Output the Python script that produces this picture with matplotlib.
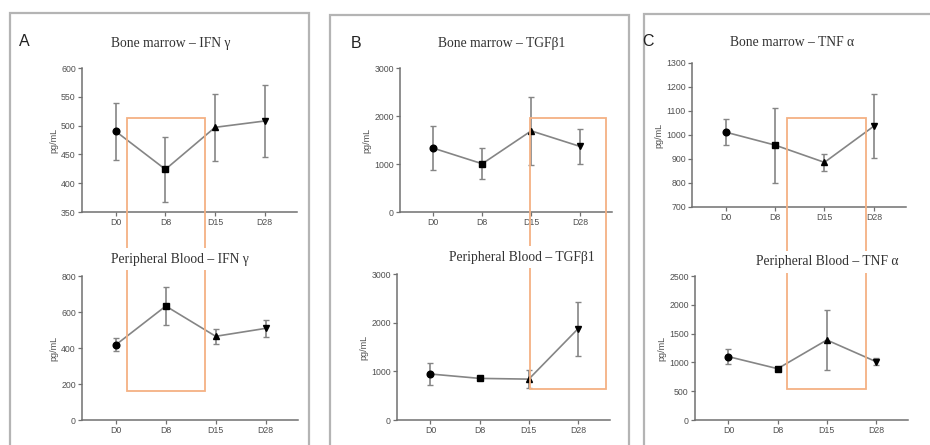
import matplotlib
matplotlib.use("Agg")
import matplotlib.pyplot as plt
from matplotlib.patches import Rectangle

# ---- data -------------------------------------------------------------
days = ["D0", "D8", "D15", "D28"]

bm_ifn = [490, 424, 497, 508]
bm_ifn_sd = [50, 56, 58, 63]
pb_ifn = [418, 633, 465, 509]
pb_ifn_sd = [36, 107, 42, 48]

bm_tgf = [1330, 1005, 1690, 1365]
bm_tgf_sd = [459, 327, 713, 358]
pb_tgf = [945, 855, 840, 1875]
pb_tgf_sd = [216, 40, 178, 556]

bm_tnf = [1012, 958, 886, 1037]
bm_tnf_sd = [54, 156, 35, 133]
pb_tnf = [1100, 891, 1389, 1013]
pb_tnf_sd = [130, 30, 520, 65]

bm_titles = ["Bone marrow – IFN γ", "Bone marrow – TGFβ1", "Bone marrow – TNF α"]
pb_titles = ["Peripheral Blood – IFN γ", "Peripheral Blood – TGFβ1", "Peripheral Blood – TNF α"]
panel_letters = ["A", "B", "C"]

bm_ylim = [(350, 600), (0, 3000), (700, 1300)]
bm_ticks = [[350, 400, 450, 500, 550, 600], [0, 1000, 2000, 3000],
            [700, 800, 900, 1000, 1100, 1200, 1300]]
pb_ylim = [(0, 800), (0, 3000), (0, 2500)]
pb_ticks = [[0, 200, 400, 600, 800], [0, 1000, 2000, 3000],
            [0, 500, 1000, 1500, 2000, 2500]]

# highlighted window per panel: x span (day index units), top value on the
# bone-marrow axis, bottom value on the peripheral-blood axis
hl_x = [(0.23, 1.78), (1.97, 3.56), (1.24, 2.80)]
hl_top = [513, 1958, 1071]
hl_bottom = [160, 637, 538]

# ---- figure -----------------------------------------------------------
W, H = 930, 445
fig = plt.figure(figsize=(W / 100, H / 100), dpi=100)
fig.patch.set_facecolor("white")

GRAY_AX = "#707070"
GRAY_TXT = "#505050"
LINE_C = "#858585"
ORANGE = "#f4b183"
XLIM = (-0.68, 3.65)
markers = ["o", "s", "^", "v"]
msizes = [4.8, 4.5, 4.3, 4.3]


def px_axes(left, top, right, bottom):
    return fig.add_axes([left / W, 1 - bottom / H, (right - left) / W, (bottom - top) / H])


def fx(x):
    return x / W


def fy(y):
    return 1 - y / H


def style_axes(ax, ylim, ticks):
    ax.set_xlim(*XLIM)
    ax.set_ylim(*ylim)
    ax.set_yticks(ticks)
    ax.set_xticks(range(len(days)))
    ax.set_xticklabels(days)
    for s in ("top", "right"):
        ax.spines[s].set_visible(False)
    for s in ("left", "bottom"):
        ax.spines[s].set_color(GRAY_AX)
        ax.spines[s].set_linewidth(1.1)
    ax.tick_params(axis="both", colors=GRAY_AX, labelcolor=GRAY_TXT,
                   labelsize=6.3, length=3, width=0.9, pad=1.5)
    ax.set_ylabel("pg/mL", fontsize=6.5, color=GRAY_TXT, labelpad=2,
                  family="Liberation Sans")
    for lab in ax.get_xticklabels() + ax.get_yticklabels():
        lab.set_family("Liberation Sans")
    ax.patch.set_alpha(0)


def draw_series(ax, vals, sds):
    x = list(range(len(vals)))
    ax.errorbar(x, vals, yerr=sds, fmt="none", ecolor=LINE_C, elinewidth=1.2,
                capsize=2.5, capthick=1.0, zorder=2)
    ax.plot(x, vals, color=LINE_C, lw=1.2, zorder=3)
    for xi, v, m, ms in zip(x, vals, markers, msizes):
        ax.plot(xi, v, marker=m, ms=ms, color="black", zorder=4)


# axes boxes in pixels: (left, top, right, bottom)
bm_boxes = [(82, 68, 297, 212), (400, 68, 612, 212), (692, 63, 906, 207)]
pb_boxes = [(82, 276, 298, 420), (397, 274, 610, 420), (695, 276, 908, 420)]

# panel frames
frames = [(10, 13, 309, 460), (330, 15, 629, 460), (644, 14, 945, 460)]
for (l, t, r, b) in frames:
    fig.patches.append(Rectangle((fx(l), fy(b)), fx(r - l), (b - t) / H,
                                 transform=fig.transFigure, fill=False,
                                 edgecolor="#b4b4b4", lw=1.6, zorder=0.5,
                                 clip_on=False))

bm_series = [(bm_ifn, bm_ifn_sd), (bm_tgf, bm_tgf_sd), (bm_tnf, bm_tnf_sd)]
pb_series = [(pb_ifn, pb_ifn_sd), (pb_tgf, pb_tgf_sd), (pb_tnf, pb_tnf_sd)]

letter_pos = [(24, 42), (356, 43), (648, 42)]
bm_title_pos = [(171, 43), (502, 44), (792, 43)]
pb_title_pos = [(180, 259), (522, 257), (827, 262)]

inv = fig.transFigure.inverted()
for i in range(3):
    ax_bm = px_axes(*bm_boxes[i])
    ax_pb = px_axes(*pb_boxes[i])
    style_axes(ax_bm, bm_ylim[i], bm_ticks[i])
    style_axes(ax_pb, pb_ylim[i], pb_ticks[i])
    draw_series(ax_bm, *bm_series[i])
    draw_series(ax_pb, *pb_series[i])

    # highlight window spanning both plots of the panel
    x0, x1 = hl_x[i]
    p_top = inv.transform(ax_bm.transData.transform((x0, hl_top[i])))
    p_bot = inv.transform(ax_pb.transData.transform((x1, hl_bottom[i])))
    fig.patches.append(Rectangle((p_top[0], p_bot[1]), p_bot[0] - p_top[0],
                                 p_top[1] - p_bot[1], transform=fig.transFigure,
                                 fill=False, edgecolor=ORANGE, lw=1.3, zorder=5))

    lx, ly = letter_pos[i]
    fig.text(fx(lx), fy(ly), panel_letters[i], fontsize=11.5, color="#222222",
             ha="center", va="center", family="Liberation Sans")
    tx, ty = bm_title_pos[i]
    fig.text(fx(tx), fy(ty), bm_titles[i], fontsize=9.8, color="#333333",
             ha="center", va="center", family="Liberation Serif", zorder=6)
    tx, ty = pb_title_pos[i]
    fig.text(fx(tx), fy(ty), pb_titles[i], fontsize=9.8, color="#333333",
             ha="center", va="center", family="Liberation Serif", zorder=6,
             bbox=dict(facecolor="white", edgecolor="none", pad=3))

fig.savefig("out.png", dpi=100, facecolor="white")
